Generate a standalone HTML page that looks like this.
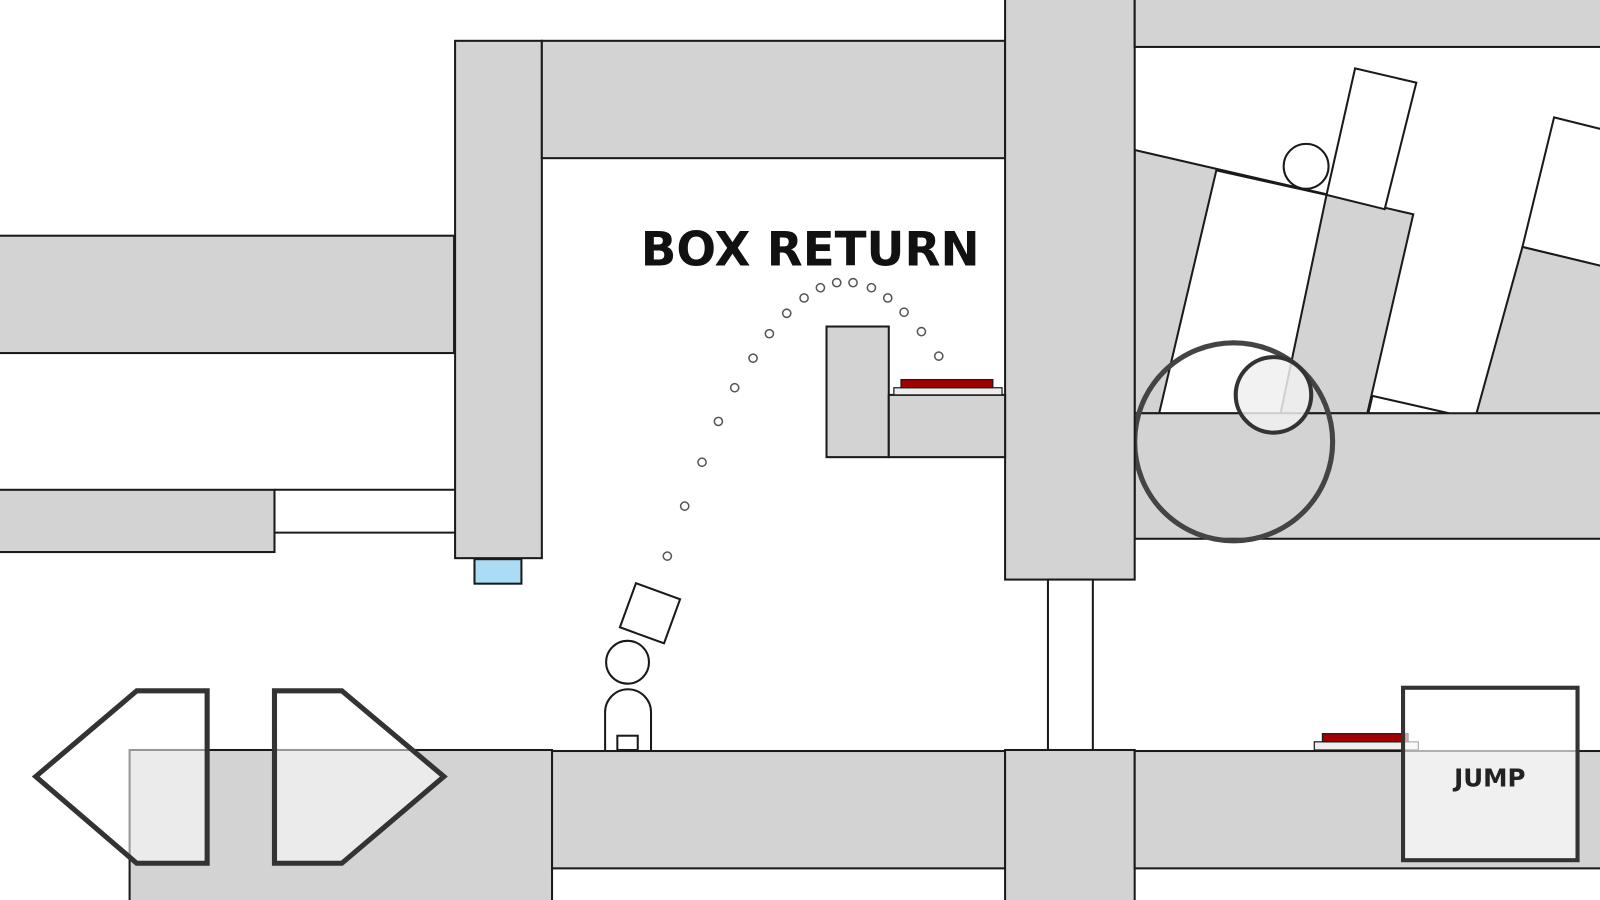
<!DOCTYPE html>
<html><head><meta charset="utf-8"><style>html,body{margin:0;padding:0;background:#fff;overflow:hidden}svg{display:block}</style></head>
<body>
<svg width="1600" height="900" viewBox="0 0 1600 900" xmlns="http://www.w3.org/2000/svg">
<g transform="scale(1.0204)" fill="#d3d3d3" stroke="#1a1a1a" stroke-width="2">
<!-- right slope region -->
<circle cx="1209" cy="433" r="97" fill="#e6e6e6" stroke="none"/>
<polygon points="1112,147 1385,210 1340,405 1112,405"/>
<polygon points="1192,167 1300,191 1255,405 1136,405" fill="#fff"/>
<polygon points="1345,388 1420,405 1341,405" fill="#fff"/>
<polygon points="1328,67 1388,81 1357,205 1300,191" fill="#fff"/>
<circle cx="1280" cy="163" r="22" fill="#fff"/>
<polygon points="1523,115 1575,128 1575,262 1492,242" fill="#fff"/>
<polygon points="1492,242 1575,262 1575,405 1447,405"/>
<rect x="1112" y="405" width="465" height="123"/>
<circle cx="1209" cy="433" r="97" fill="none" stroke="#444" stroke-width="5"/>
<circle cx="1248" cy="387" r="37" fill="#f0f0f0" fill-opacity="0.85" stroke="#333" stroke-width="4"/>

<rect x="-5" y="231" width="450" height="115"/>
<rect x="-5" y="480" width="274" height="61"/>
<line x1="269" y1="480" x2="446" y2="480"/>
<line x1="269" y1="522" x2="446" y2="522"/>
<rect x="446" y="40" width="85" height="507"/>
<rect x="531" y="40" width="454" height="115"/>
<rect x="465" y="548" width="46" height="24" fill="#aadcf5"/>
<rect x="985" y="-5" width="127" height="573"/>
<rect x="1112" y="-5" width="460" height="51"/>
<rect x="1027" y="568" width="44" height="168" fill="#fff"/>
<rect x="127" y="735" width="414" height="160"/>
<rect x="541" y="736" width="444" height="115"/>
<rect x="985" y="735" width="127" height="160"/>
<rect x="1112" y="736" width="460" height="115"/>
<rect x="810" y="320" width="61" height="128"/>
<rect x="871" y="387" width="114" height="61"/>
<rect x="876" y="380" width="106" height="7" fill="#eee" stroke-width="1.2"/>
<rect x="883" y="372" width="90" height="8" fill="#a00000" stroke-width="1.2"/>
<rect x="1288" y="727" width="102" height="8" fill="#eee" stroke-width="1.2"/>
<rect x="1296" y="719" width="84" height="8" fill="#a00000" stroke-width="1.2"/>
<text x="628" y="260" font-family="DejaVu Sans, sans-serif" font-weight="bold" font-size="46" fill="#111" stroke="none" textLength="332" lengthAdjust="spacingAndGlyphs">BOX RETURN</text>
<g fill="#fff" stroke="#555" stroke-width="1.5">
<circle cx="654" cy="545" r="4"/><circle cx="671" cy="496" r="4"/><circle cx="688" cy="453" r="4"/><circle cx="704" cy="413" r="4"/><circle cx="720" cy="380" r="4"/><circle cx="738" cy="351" r="4"/><circle cx="754" cy="327" r="4"/><circle cx="771" cy="307" r="4"/><circle cx="788" cy="292" r="4"/><circle cx="804" cy="282" r="4"/><circle cx="820" cy="277" r="4"/><circle cx="836" cy="277" r="4"/><circle cx="854" cy="282" r="4"/><circle cx="870" cy="292" r="4"/><circle cx="886" cy="306" r="4"/><circle cx="903" cy="325" r="4"/><circle cx="920" cy="349" r="4"/>
</g>
<rect x="614" y="578" width="46" height="46" fill="#fff" transform="rotate(20 637 601)"/>
<circle cx="615" cy="649" r="21" fill="#fff"/>
<path d="M593,735 V698 A22,22 0 0 1 638,698 V735" fill="#fff"/>
<rect x="605" y="721" width="20" height="14" fill="#fff"/>
<polygon points="35,761 134,677 203,677 203,846 134,846" fill="#fff" fill-opacity="0.55" stroke="#333" stroke-width="5"/>
<polygon points="269,677 335,677 435,761 335,846 269,846" fill="#fff" fill-opacity="0.55" stroke="#333" stroke-width="5"/>
<rect x="1375" y="674" width="171" height="169" fill="#fff" fill-opacity="0.65" stroke="#333" stroke-width="4"/>
<text x="1460" y="771" text-anchor="middle" font-family="DejaVu Sans, sans-serif" font-weight="bold" font-size="24" fill="#222" stroke="none">JUMP</text>
</g>
</svg>
</body></html>
